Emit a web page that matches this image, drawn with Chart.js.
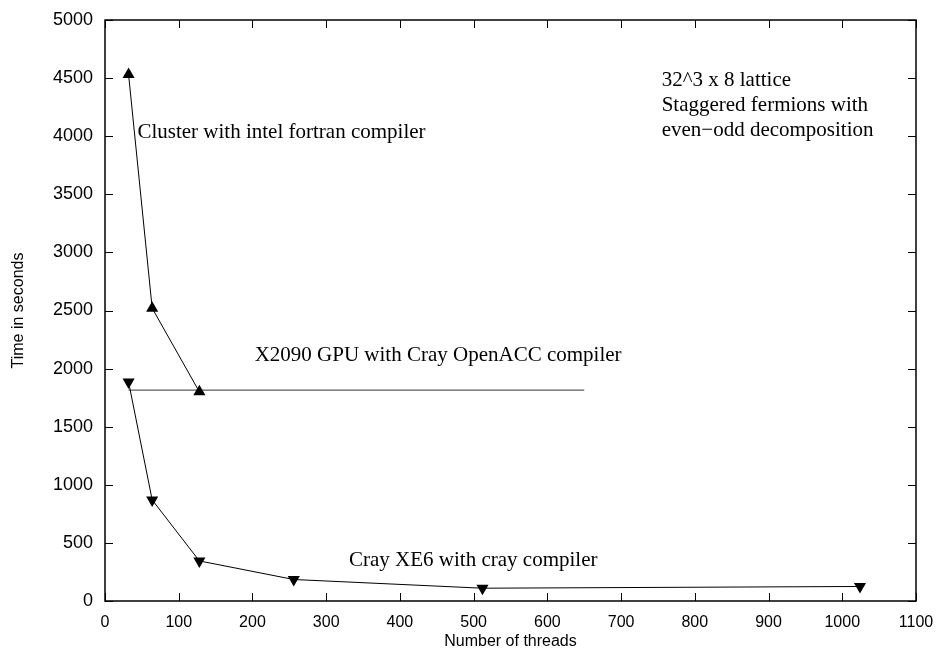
<!DOCTYPE html>
<html>
<head>
<meta charset="utf-8">
<script src="https://cdn.jsdelivr.net/npm/chart.js@4.4.1/dist/chart.umd.min.js"></script>
<style>
  html, body { margin: 0; padding: 0; background: #fff; }
  #wrap { width: 941px; height: 655px; }
</style>
</head>
<body>
<div id="wrap"><canvas id="c" width="941" height="655"></canvas></div>
<script>
// data
const clusterThreads = [32, 64, 128];
const clusterTimes = [4530, 2520, 1800];
const crayThreads = [32, 64, 128, 256, 512, 1024];
const crayTimes = [1885, 870, 345, 185, 110, 125];
const gpuThreads = [32, 650];
const gpuTimes = [1815, 1815];
const xTicks = [0, 100, 200, 300, 400, 500, 600, 700, 800, 900, 1000, 1100];
const yTicks = [0, 500, 1000, 1500, 2000, 2500, 3000, 3500, 4000, 4500, 5000];

// annotation texts, anchored (left, baseline) in data coordinates
const notes = [
    { text: 'Cluster with intel fortran compiler', x: 44, y: 3986 },
    { text: 'X2090 GPU with Cray OpenACC compiler', x: 203, y: 2062 },
    { text: 'Cray XE6 with cray compiler', x: 331, y: 300 },
    { text: '32^3 x 8 lattice', x: 755, y: 4433 },
    { text: 'Staggered fermions with', x: 755, y: 4218 },
    { text: 'even\u2212odd decomposition', x: 755, y: 4003 }
];

const toXY = (xs, ys) => xs.map((x, i) => ({ x: x, y: ys[i] }));

// box + inward ticks (mirrored on top/right), gnuplot style
const frame = {
    id: 'frame',
    afterDatasetsDraw(chart) {
        const ctx = chart.ctx;
        const a = chart.chartArea;
        const xs = chart.scales.x, ys = chart.scales.y;
        const len = 8;
        ctx.save();
        ctx.strokeStyle = '#000';
        ctx.lineWidth = 1;
        ctx.beginPath();
        xTicks.forEach(v => {
            const px = Math.round(xs.getPixelForValue(v)) + 0.5;
            ctx.moveTo(px, a.bottom); ctx.lineTo(px, a.bottom - len);
            ctx.moveTo(px, a.top); ctx.lineTo(px, a.top + len);
        });
        yTicks.forEach(v => {
            const py = Math.round(ys.getPixelForValue(v)) + 0.5;
            ctx.moveTo(a.left, py); ctx.lineTo(a.left + len, py);
            ctx.moveTo(a.right, py); ctx.lineTo(a.right - len, py);
        });
        ctx.stroke();
        ctx.lineWidth = 1.5;
        ctx.strokeRect(a.left, a.top, a.right - a.left, a.bottom - a.top);

        ctx.fillStyle = '#000';
        ctx.font = '21px "Liberation Serif", "Times New Roman", serif';
        ctx.textBaseline = 'alphabetic';
        ctx.textAlign = 'left';
        notes.forEach(n => {
            ctx.fillText(n.text, xs.getPixelForValue(n.x), ys.getPixelForValue(n.y));
        });
        ctx.restore();
    }
};

const sans = '"Liberation Sans", Arial, sans-serif';

new Chart(document.getElementById('c').getContext('2d'), {
    type: 'scatter',
    data: {
        datasets: [
            {
                label: 'Cluster',
                data: toXY(clusterThreads, clusterTimes),
                showLine: true,
                borderColor: '#000',
                backgroundColor: '#000',
                borderWidth: 1,
                pointStyle: 'triangle',
                pointRadius: 7,
                pointBorderWidth: 0
            },
            {
                label: 'Cray XE6',
                data: toXY(crayThreads, crayTimes),
                showLine: true,
                borderColor: '#000',
                backgroundColor: '#000',
                borderWidth: 1,
                pointStyle: 'triangle',
                pointRotation: 180,
                pointRadius: 7,
                pointBorderWidth: 0
            },
            {
                label: 'X2090 GPU',
                data: toXY(gpuThreads, gpuTimes),
                showLine: true,
                borderColor: '#333',
                borderWidth: 1,
                pointRadius: 0
            }
        ]
    },
    options: {
        responsive: false,
        animation: false,
        layout: { padding: { top: 20, right: 25, left: 0, bottom: 0 } },
        plugins: {
            legend: { display: false },
            tooltip: { enabled: false }
        },
        scales: {
            x: {
                type: 'linear',
                min: 0,
                max: 1100,
                afterBuildTicks: s => { s.ticks = xTicks.map(v => ({ value: v })); },
                afterFit: s => { s.height = 54; s.paddingLeft = 0; s.paddingRight = 0; },
                grid: { display: false, drawTicks: false },
                border: { display: false },
                ticks: { color: '#000', font: { family: sans, size: 16 }, padding: 12, maxRotation: 0, callback: v => String(v) },
                title: { display: true, text: 'Number of threads', color: '#000', font: { family: sans, size: 16 }, padding: { top: 4 } }
            },
            y: {
                type: 'linear',
                min: 0,
                max: 5000,
                afterBuildTicks: s => { s.ticks = yTicks.map(v => ({ value: v })); },
                afterFit: s => { s.width = 105; s.paddingTop = 0; s.paddingBottom = 0; },
                grid: { display: false, drawTicks: false },
                border: { display: false },
                ticks: { color: '#000', font: { family: sans, size: 18 }, padding: 12, callback: v => String(v) },
                title: { display: true, text: 'Time in seconds', color: '#000', font: { family: sans, size: 16 }, padding: { top: 9, bottom: 4 } }
            }
        }
    },
    plugins: [frame]
});
</script>
</body>
</html>
